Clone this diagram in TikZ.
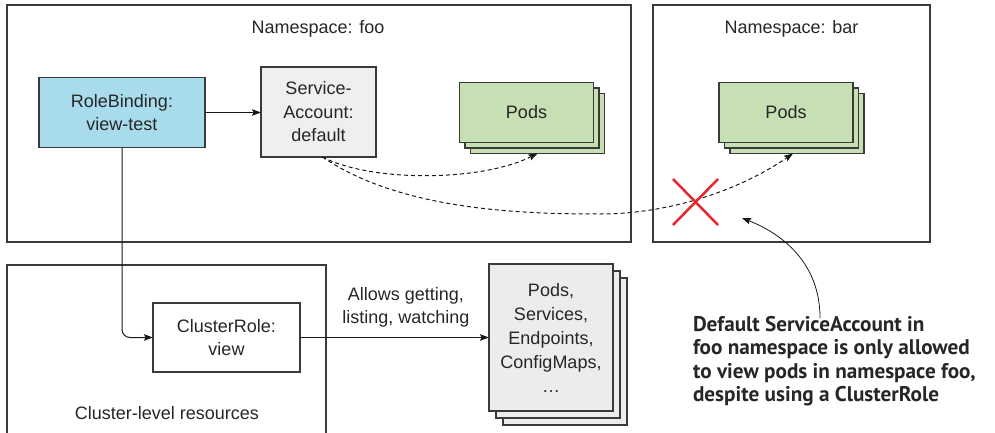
\documentclass[tikz,border=0pt]{standalone}
\usepackage{fontspec}
\setmainfont{Liberation Sans}
\newfontfamily\calloutfont{PT Sans}
\usetikzlibrary{arrows.meta}
\definecolor{boxc}{HTML}{3A3A3A}
\definecolor{txt}{HTML}{262626}
\definecolor{rbfill}{HTML}{A8DCEC}
\definecolor{safill}{HTML}{EEEFF1}
\definecolor{podfill}{HTML}{C6E0B4}
\definecolor{docfill}{HTML}{EBECEE}
\definecolor{xred}{HTML}{E8262B}
\begin{document}
\begin{tikzpicture}[x=1pt,y=-1pt,
  every node/.style={text=txt, font=\fontsize{18}{23.5}\selectfont, inner sep=0pt, outer sep=0pt},
  region/.style={draw=boxc, line width=1.1pt, rectangle},
  box/.style={draw=boxc, line width=1.1pt, rectangle, align=center},
  podbox/.style={box, fill=podfill, minimum width=134pt, minimum height=60pt},
  docbox/.style={box, fill=docfill, minimum width=124pt, minimum height=147pt},
  conn/.style={draw=black!90, line width=1pt, -{Stealth[length=9pt,width=6.5pt,inset=1.5pt]}},
  dashconn/.style={conn, dash pattern=on 4pt off 3pt},
]
\useasboundingbox (0,0) rectangle (995,433);

% regions
\node[region, minimum width=624pt, minimum height=237pt] (foo) at (319,123.5) {};
\node[region, minimum width=277pt, minimum height=237pt] (bar) at (791.5,123.5) {};
\node[region, minimum width=319pt, minimum height=180pt] (cluster) at (166.5,355) {};

\node (fooT) at (318,29) {Namespace: foo};
\node (barT) at (791.5,29) {Namespace: bar};
\node (clT) at (167,413) {Cluster-level resources};

% boxes
\node[box, fill=rbfill, minimum width=166pt, minimum height=70pt] (rb) at (122,112.5) {RoleBinding:\\view-test};
\node[box, fill=safill, minimum width=115pt, minimum height=90pt] (sa) at (318.5,112) {Service-\\Account:\\default};

\node[podbox] (podsA3) at (537.5,123.5) {};
\node[podbox] (podsA2) at (532,118) {};
\node[podbox] (podsA) at (526.5,112.5) {Pods};

\node[podbox] (podsB3) at (797,123.5) {};
\node[podbox] (podsB2) at (791.5,118) {};
\node[podbox] (podsB) at (786,112.5) {Pods};

\node[box, fill=white, minimum width=147pt, minimum height=69pt] (cr) at (226.5,337.5) {ClusterRole:\\view};

\node[docbox] (docs3) at (565,351.5) {};
\node[docbox] (docs2) at (558,344.5) {};
\node[docbox, font=\fontsize{18}{24}\selectfont] (docs) at (551,337.5) {Pods,\\Services,\\Endpoints,\\ConfigMaps,\\…};

\node[align=center] (allows) at (406,307.5) {Allows getting,\\listing, watching};

\node[align=left, anchor=west, font=\calloutfont\bfseries\fontsize{21.2}{23.5}\selectfont] (note) at (693,361)
  {Default ServiceAccount in\\foo namespace is only allowed\\to view pods in namespace foo,\\despite using a ClusterRole};

% connectors
\draw[conn] (rb.east) -- (rb.east -| sa.west);
\draw[conn, rounded corners=8pt] (rb.south) |- (cr.west);
\draw[conn] (cr.east) -- (cr.east -| docs.west);

\draw[dashconn] ([xshift=4pt]sa.south) .. controls (370,182) and (480,182) .. (podsA3.south);
\coordinate (dip) at (600,214);
\draw[dashconn] ([xshift=4pt]sa.south) .. controls (400,210) and (520,214) .. (dip)
  .. controls (670,214) and (740,190) .. ([xshift=-4pt]podsB3.south);

% red cross
\draw[xred, line width=2.5pt] (673,179) -- (718,225) (673,225) -- (718,179);

% callout arrow
\coordinate (cx) at (820,0);
\coordinate (tip) at (742,218);
\draw[conn, line width=0.8pt] ([yshift=-2pt]note.north -| cx) .. controls (820,265) and (785,235) .. (tip);
\end{tikzpicture}
\end{document}
